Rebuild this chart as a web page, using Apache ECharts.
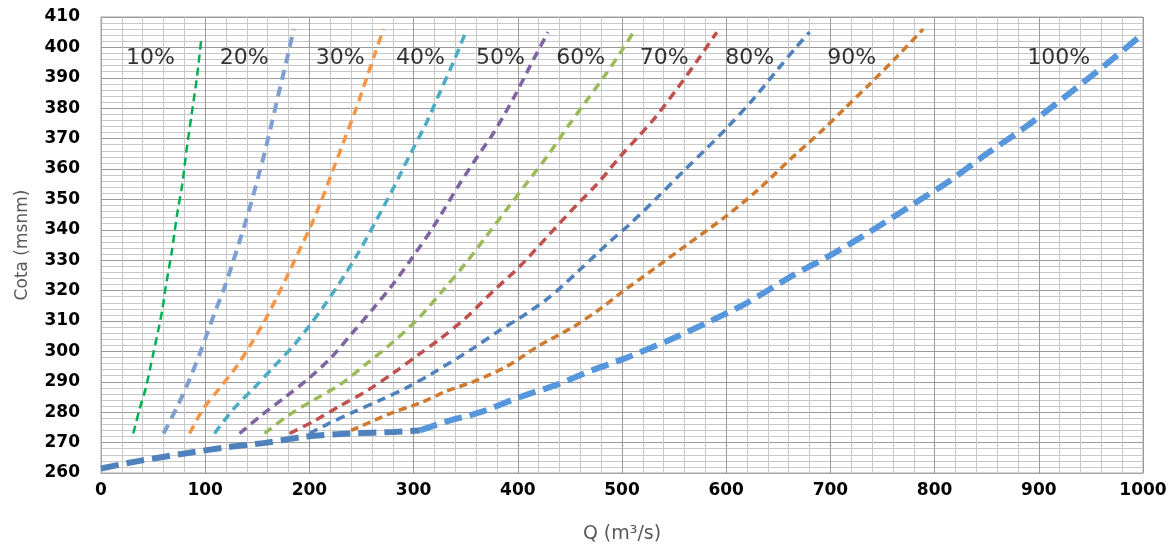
<!DOCTYPE html>
<html>
<head>
<meta charset="utf-8">
<script src="https://cdn.jsdelivr.net/npm/echarts@6/dist/echarts.min.js"></script>
<style>
html,body{margin:0;padding:0;background:#fff;}
#chart{width:1175px;height:550px;}
</style>
</head>
<body>
<div id="chart"></div>
<script>
// ---- data (Q in m3/s, Cota in msnm) ----
const xTicks = [0,100,200,300,400,500,600,700,800,900,1000];
const yTicks = [260,270,280,290,300,310,320,330,340,350,360,370,380,390,400,410];

const curve10 = [[31,273],[37,281],[43,288],[50,299],[55,307],[59,314],[62,321],[68,333],[73,345],[78,355],[82,366],[87,378],[92,390],[96,402]];
const curve20 = [[60,273],[72,281],[84,290],[94.5,299],[102,306],[109.5,313],[119.5,322],[130,333],[140,344],[149,355],[157.5,366],[164.5,376],[172,387],[179,397],[185,406]];
const curve30 = [[85,273],[98,281],[114,288],[130,295],[145,303],[157,310],[169,318],[179,325],[190,333],[201,341],[212,350],[223,360],[234,370],[245,380],[255,390],[263,398],[271,406]];
const curve40 = [[109,273],[127,281],[147,288],[166,295],[185,302],[199,308],[212,314],[228,322],[248,333],[264,343],[281,354],[297,365],[312,375],[325,385],[338,395],[350,405]];
const curve50 = [[133,273],[154,279],[177,285],[199,291],[221,298],[241,306],[261,314],[280,322],[299,331],[319,341],[344,355],[365,366],[377,372],[397,384],[415,396],[429,405]];
const curve60 = [[157,273],[180,279],[204,284],[229,289],[255,296],[280,303],[305,311],[328,320],[350,329],[370,338],[390,347],[410,356],[430,365],[448,374],[465,382],[482,390],[498,398],[511,405]];
const curve70 = [[181,273],[204,277],[229,282],[255,287],[281,293],[305,299],[325,304],[350,311],[377,320],[402,328],[429,338],[456,348],[476,355],[498,364],[514,370],[532,377],[552,386],[573,396],[591,405]];
const curve80 = [[200,273],[217,276],[242,280],[268,284],[293,288],[319,293],[357,301],[383,307],[402,311],[431,318],[460,327],[488,336],[508,342],[535,351],[561,360],[579,366],[602,374],[626,383],[650,393],[667,400],[680,405]];
const curve90 = [[240,274],[281,280],[306,283],[332,287],[357,290],[389,295],[421,302],[453,308],[479,314],[498,319],[530,327],[562,335],[598,344],[630,353],[664,364],[690,372],[714,380],[738,388],[764,397],[789,406]];
const curveBase = [[0,261.5],[37,264],[82,266.5],[121,268.5],[159,270],[197,272],[239,273],[281,273.5],[306,274]];
const curve100 = [[306,274],[332,277],[364,280],[402,285],[437,289],[473,294],[505,298],[547,304],[585,310],[620,316],[664,325],[702,332],[741,340],[782,349],[814,356],[850,365],[888,374],[926,384],[963,394],[1000,404.5]];

const labelNames = ['10%','20%','30%','40%','50%','60%','70%','80%','90%','100%'];
const labelQ = [24,114,206,283,360,437,517,599,697,889];
const labelZ = [396.5,396.5,396.5,396.5,396.5,396.5,396.5,396.5,396.5,396.5];

// ---- styles ----
function lineSeries(name, data, color, width, dash){
  return {
    name: name, type: 'line', data: data, smooth: 0.3, symbol: 'none',
    lineStyle: {color: color, width: width, type: dash},
    z: 3, silent: true
  };
}

const chart = echarts.init(document.getElementById('chart'), null, {renderer:'canvas'});
const option = {
  animation: false,
  backgroundColor: '#fff',
  grid: {left: 101, right: 32, top: 17, bottom: 77, containLabel: false,
         show: true, borderColor: '#a6a6a6', borderWidth: 1},
  xAxis: {
    type: 'value', min: xTicks[0], max: xTicks[xTicks.length-1], interval: 100,
    name: 'Q (m³/s)', nameLocation: 'middle', nameGap: 52,
    nameTextStyle: {fontFamily: 'DejaVu Sans', fontSize: 19, color: '#595959'},
    axisLine: {show: true, lineStyle: {color: '#a6a6a6'}},
    axisTick: {show: false},
    axisLabel: {fontFamily: 'DejaVu Sans', fontWeight: 'bold', fontSize: 17, color: '#000', margin: 9,
                formatter: function(v){ return String(v); }},
    splitLine: {show: true, lineStyle: {color: '#9a9a9a', width: 1}},
    minorTick: {show: false, splitNumber: 5},
    minorSplitLine: {show: true, lineStyle: {color: '#c8c8c8', width: 1}}
  },
  yAxis: {
    type: 'value', min: yTicks[0], max: yTicks[yTicks.length-1], interval: 10,
    name: 'Cota (msnm)', nameLocation: 'middle', nameGap: 70,
    nameTextStyle: {fontFamily: 'DejaVu Sans', fontSize: 17, color: '#595959'},
    axisLine: {show: true, lineStyle: {color: '#a6a6a6'}},
    axisTick: {show: false},
    axisLabel: {fontFamily: 'DejaVu Sans', fontWeight: 'bold', fontSize: 17, color: '#000', margin: 21},
    splitLine: {show: true, lineStyle: {color: '#9a9a9a', width: 1}},
    minorTick: {show: false, splitNumber: 5},
    minorSplitLine: {show: true, lineStyle: {color: '#c8c8c8', width: 1}}
  },
  series: [
    lineSeries('base', curveBase, '#4f81bd', 6, [18,8]),
    lineSeries('100%', curve100, '#5596dc', 6, [18,8]),
    lineSeries('10%', curve10, '#00b050', 2.5, [8,5]),
    lineSeries('20%', curve20, '#7f9fd3', 4, [10,7]),
    lineSeries('30%', curve30, '#f79646', 3.5, [9,6]),
    lineSeries('40%', curve40, '#4bacc6', 3.5, [9,6]),
    lineSeries('50%', curve50, '#8064a2', 3.5, [9,6]),
    lineSeries('60%', curve60, '#9bbb59', 3.5, [9,6]),
    lineSeries('70%', curve70, '#c0504d', 3.5, [9,6]),
    lineSeries('80%', curve80, '#4f81bd', 3.5, [9,6]),
    lineSeries('90%', curve90, '#d07a30', 3.5, [8,5]),
    {
      name: 'labels', type: 'scatter', symbolSize: 0, silent: true, z: 5,
      data: labelNames.map((n,i)=>({name: n, value: [labelQ[i], labelZ[i]]})),
      label: {show: true, position: 'right', distance: 0, formatter: '{b}',
              fontFamily: 'DejaVu Sans', fontSize: 22, color: '#000'}
    }
  ]
};
chart.setOption(option);
</script>
</body>
</html>
